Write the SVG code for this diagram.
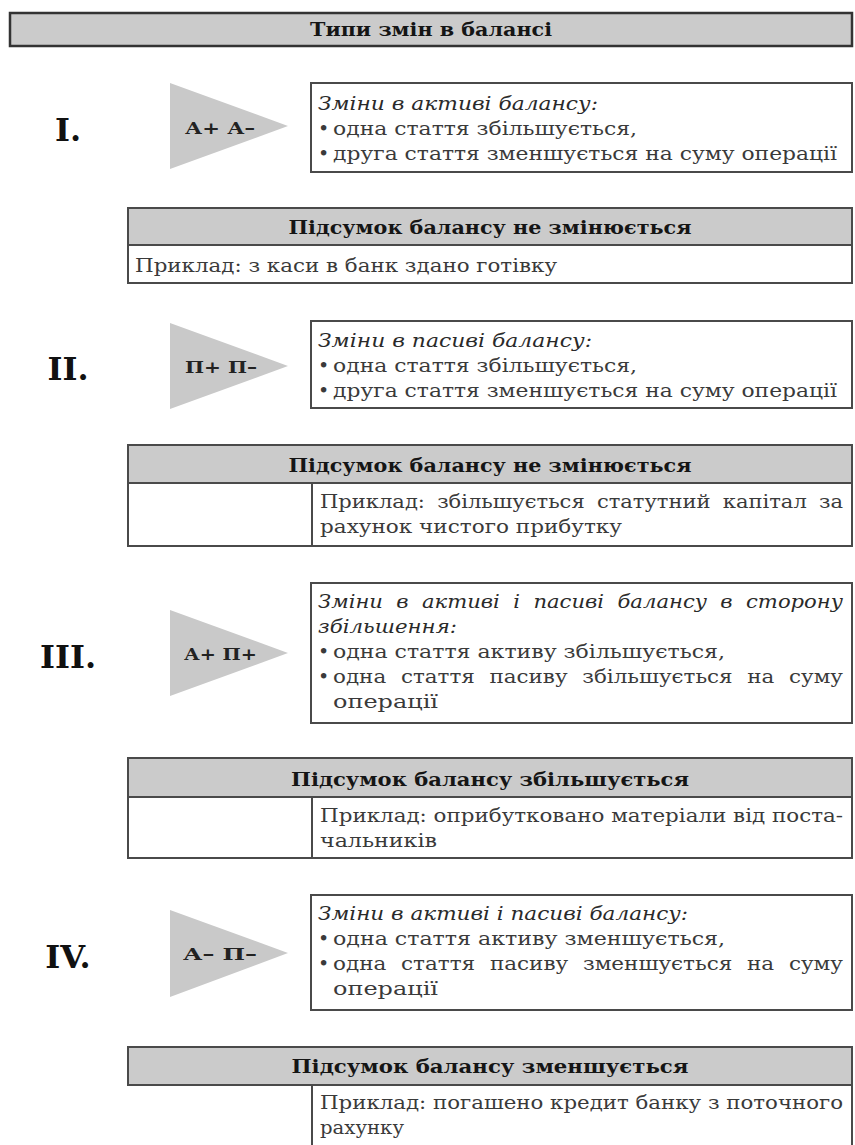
<svg xmlns="http://www.w3.org/2000/svg" width="855" height="1145" viewBox="0 0 855 1145">
<style>
.bg{fill:#ffffff}
.box{fill:#ffffff;stroke:#4a4a4a;stroke-width:2}
.hdr{fill:#cbcbcb;stroke:#4a4a4a;stroke-width:2}
.tri{fill:#c9c9c9;stroke:none}
.ln{stroke:#4a4a4a;stroke-width:2}
.num{font-family:"DejaVu Serif","Liberation Serif",serif;font-weight:bold;font-size:32px;fill:#111;text-anchor:middle}
.lab{font-family:"DejaVu Serif","Liberation Serif",serif;font-weight:bold;font-size:17px;fill:#222}
.h{font-family:"DejaVu Serif","Liberation Serif",serif;font-weight:bold;font-size:18px;fill:#151515;text-anchor:middle}
.it{font-family:"DejaVu Serif","Liberation Serif",serif;font-style:italic;font-size:19px;fill:#2a2a2a}
.t{font-family:"DejaVu Serif","Liberation Serif",serif;font-size:19px;fill:#3a3a3a}
</style>
<rect class="bg" x="0" y="0" width="855" height="1145"/>

<g id="title">
<rect class="hdr" x="10" y="13" width="842" height="33" style="stroke-width:2.5;stroke:#333"/>
<text class="h" x="431" y="36" textLength="242" lengthAdjust="spacingAndGlyphs">Типи змін в балансі</text>
</g>

<g id="connectors"></g>

<g id="section-1">
<text class="num" x="68" y="141">I.</text>
<polygon class="tri" points="170,83 288,126 170,169"/>
<text class="lab" x="185" y="134" textLength="70" lengthAdjust="spacingAndGlyphs">А+ А–</text>
<rect class="box" x="311" y="83" width="541" height="89"/>
<text class="it" x="318" y="110" textLength="280" lengthAdjust="spacingAndGlyphs">Зміни в активі балансу:</text>
<text class="t" x="318" y="135">•</text>
<text class="t" x="333" y="135" textLength="304" lengthAdjust="spacingAndGlyphs">одна стаття збільшується,</text>
<text class="t" x="318" y="160">•</text>
<text class="t" x="333" y="160" textLength="504" lengthAdjust="spacingAndGlyphs">друга стаття зменшується на суму операції</text>
</g>

<g id="summary-1">
<rect class="box" x="128" y="208" width="724" height="75"/>
<rect class="hdr" x="128" y="208" width="724" height="37"/>
<text class="h" x="490" y="234" textLength="403" lengthAdjust="spacingAndGlyphs">Підсумок балансу не змінюється</text>
<text class="t" x="135" y="272" textLength="422" lengthAdjust="spacingAndGlyphs">Приклад: з каси в банк здано готівку</text>
</g>

<g id="section-2">
<text class="num" x="68" y="380">II.</text>
<polygon class="tri" points="170,323 288,366 170,409"/>
<text class="lab" x="185" y="373" textLength="72" lengthAdjust="spacingAndGlyphs">П+ П–</text>
<rect class="box" x="311" y="321" width="541" height="87"/>
<text class="it" x="318" y="347" textLength="274" lengthAdjust="spacingAndGlyphs">Зміни в пасиві балансу:</text>
<text class="t" x="318" y="372">•</text>
<text class="t" x="333" y="372" textLength="304" lengthAdjust="spacingAndGlyphs">одна стаття збільшується,</text>
<text class="t" x="318" y="397">•</text>
<text class="t" x="333" y="397" textLength="504" lengthAdjust="spacingAndGlyphs">друга стаття зменшується на суму операції</text>
</g>

<g id="summary-2">
<rect class="box" x="128" y="445" width="724" height="101"/>
<rect class="hdr" x="128" y="445" width="724" height="38"/>
<line class="ln" x1="312" y1="483" x2="312" y2="546"/>
<text class="h" x="490" y="472" textLength="403" lengthAdjust="spacingAndGlyphs">Підсумок балансу не змінюється</text>
<text class="t" x="320" y="508" word-spacing="5" textLength="523" lengthAdjust="spacingAndGlyphs">Приклад: збільшується статутний капітал за</text>
<text class="t" x="320" y="533" textLength="302" lengthAdjust="spacingAndGlyphs">рахунок чистого прибутку</text>
</g>

<g id="section-3">
<text class="num" x="68" y="668">III.</text>
<polygon class="tri" points="170,610 288,653 170,696"/>
<text class="lab" x="184" y="660" textLength="73" lengthAdjust="spacingAndGlyphs">А+ П+</text>
<rect class="box" x="311" y="583" width="541" height="140"/>
<text class="it" x="318" y="608" word-spacing="6" textLength="525" lengthAdjust="spacingAndGlyphs">Зміни в активі і пасиві балансу в сторону</text>
<text class="it" x="318" y="633" textLength="139" lengthAdjust="spacingAndGlyphs">збільшення:</text>
<text class="t" x="318" y="658">•</text>
<text class="t" x="333" y="658" textLength="392" lengthAdjust="spacingAndGlyphs">одна стаття активу збільшується,</text>
<text class="t" x="318" y="683">•</text>
<text class="t" x="333" y="683" word-spacing="7" textLength="510" lengthAdjust="spacingAndGlyphs">одна стаття пасиву збільшується на суму</text>
<text class="t" x="333" y="708" textLength="105" lengthAdjust="spacingAndGlyphs">операції</text>
</g>

<g id="summary-3">
<rect class="box" x="128" y="758" width="724" height="100"/>
<rect class="hdr" x="128" y="758" width="724" height="39"/>
<line class="ln" x1="312" y1="797" x2="312" y2="858"/>
<text class="h" x="490" y="786" textLength="398" lengthAdjust="spacingAndGlyphs">Підсумок балансу збільшується</text>
<text class="t" x="320" y="822" textLength="523" lengthAdjust="spacingAndGlyphs">Приклад: оприбутковано матеріали від поста-</text>
<text class="t" x="320" y="847" textLength="117" lengthAdjust="spacingAndGlyphs">чальників</text>
</g>

<g id="section-4">
<text class="num" x="68" y="968">IV.</text>
<polygon class="tri" points="170,910 288,953 170,997"/>
<text class="lab" x="183" y="960" textLength="74" lengthAdjust="spacingAndGlyphs">А–  П–</text>
<rect class="box" x="311" y="895" width="541" height="115"/>
<text class="it" x="318" y="920" textLength="370" lengthAdjust="spacingAndGlyphs">Зміни в активі і пасиві балансу:</text>
<text class="t" x="318" y="945">•</text>
<text class="t" x="333" y="945" textLength="392" lengthAdjust="spacingAndGlyphs">одна стаття активу зменшується,</text>
<text class="t" x="318" y="970">•</text>
<text class="t" x="333" y="970" word-spacing="7" textLength="510" lengthAdjust="spacingAndGlyphs">одна стаття пасиву зменшується на суму</text>
<text class="t" x="333" y="995" textLength="105" lengthAdjust="spacingAndGlyphs">операції</text>
</g>

<g id="summary-4">
<rect class="box" x="312" y="1085" width="540" height="70"/>
<rect class="hdr" x="128" y="1047" width="724" height="38"/>
<text class="h" x="490" y="1073" textLength="397" lengthAdjust="spacingAndGlyphs">Підсумок балансу зменшується</text>
<text class="t" x="320" y="1109" textLength="523" lengthAdjust="spacingAndGlyphs">Приклад: погашено кредит банку з поточного</text>
<text class="t" x="320" y="1134" textLength="84" lengthAdjust="spacingAndGlyphs">рахунку</text>
</g>
</svg>
